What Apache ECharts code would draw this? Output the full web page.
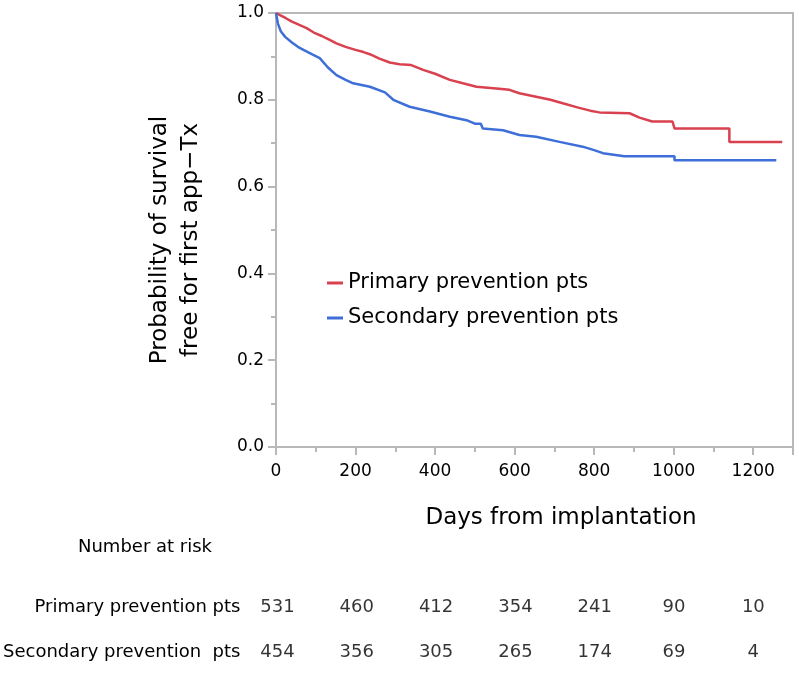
<!DOCTYPE html>
<html>
<head>
<meta charset="utf-8">
<script src="https://cdn.jsdelivr.net/npm/echarts@6/dist/echarts.min.js"></script>
<style>html,body{margin:0;padding:0;background:#fff}#c{width:799px;height:676px}</style>
</head>
<body>
<div id="c"></div>
<script>
// Kaplan-Meier curves: [day, survival]
var primaryName = 'Primary prevention pts';
var secondaryName = 'Secondary prevention pts';
var primaryDays = [0,10,25,40,60,77,95,115,135,152,175,200,220,236,260,286,311,340,370,400,437,470,504,554,587,612,654,690,721,760,790,813,889,914,946,997,1002,1140,1140,1273];
var primarySurv = [1.0,0.995,0.988,0.980,0.972,0.965,0.955,0.947,0.938,0.930,0.922,0.915,0.910,0.905,0.895,0.886,0.882,0.880,0.869,0.860,0.846,0.838,0.830,0.826,0.823,0.815,0.807,0.800,0.792,0.782,0.775,0.771,0.769,0.759,0.750,0.750,0.734,0.734,0.703,0.703];
var secondaryDays = [0,5,12,23,40,55,69,90,110,130,152,175,194,236,274,295,336,387,437,479,500,515,520,571,612,654,713,771,800,822,876,1002,1002,1258];
var secondarySurv = [1.0,0.975,0.958,0.945,0.932,0.922,0.915,0.905,0.896,0.875,0.857,0.846,0.838,0.830,0.817,0.800,0.784,0.773,0.761,0.753,0.745,0.745,0.734,0.730,0.719,0.715,0.703,0.692,0.684,0.677,0.670,0.670,0.661,0.661];

// Number at risk table
var riskTimes = [0,200,400,600,800,1000,1200];
var riskGroups = ['Secondary prevention  pts','Primary prevention pts'];
var riskPrimary = [531,460,412,354,241,90,10];
var riskSecondary = [454,356,305,265,174,69,4];

var xTitle = 'Days from implantation';
var yTitle = 'Probability of survival\nfree for first app\u2212Tx';
var riskTitle = 'Number at risk';

function pairs(xs, ys){ return xs.map(function(x,i){ return [x, ys[i]]; }); }
var riskData = [];
riskTimes.forEach(function(t,i){
  riskData.push([t, riskGroups[1], riskPrimary[i]]);
  riskData.push([t, riskGroups[0], riskSecondary[i]]);
});

var FONT = 'DejaVu Sans';
var axisGray = '#b8b8b8';
var chart = echarts.init(document.getElementById('c'));
chart.setOption({
  animation: false,
  backgroundColor: '#fff',
  textStyle: {fontFamily: FONT},
  grid: [
    {left: 276, right: 6, top: 13, bottom: 229, show: true, borderColor: axisGray, borderWidth: 2},
    {left: 276, right: 6, top: 584.5, height: 90}
  ],
  legend: {
    data: [primaryName, secondaryName],
    orient: 'vertical', left: 327, top: 271, padding: 0,
    icon: 'rect', itemWidth: 16, itemHeight: 3, itemGap: 11,
    textStyle: {fontFamily: FONT, fontSize: 21, color: '#000', lineHeight: 24}
  },
  xAxis: [{
    gridIndex: 0, type: 'value', min: 0, max: 1300, interval: 200,
    axisLine: {lineStyle: {color: axisGray, width: 2}},
    axisTick: {show: true, length: 8, inside: false, lineStyle: {color: axisGray, width: 2}},
    minorTick: {show: true, splitNumber: 2, length: 5, lineStyle: {color: axisGray, width: 2}},
    splitLine: {show: false},
    axisLabel: {margin: 16, fontSize: 17, color: '#000', fontFamily: FONT, showMaxLabel: false,
      formatter: function(v){ return v % 200 === 0 ? String(v) : ''; }}
  },{
    gridIndex: 1, type: 'value', min: 0, max: 1300, show: false
  }],
  yAxis: [{
    gridIndex: 0, type: 'value', min: 0, max: 1, interval: 0.2,
    axisLine: {show: true, lineStyle: {color: axisGray, width: 2}},
    axisTick: {show: true, length: 8, inside: false, lineStyle: {color: axisGray, width: 2}},
    minorTick: {show: true, splitNumber: 2, length: 5, lineStyle: {color: axisGray, width: 2}},
    splitLine: {show: false},
    axisLabel: {margin: 12, fontSize: 17, color: '#000', fontFamily: FONT,
      formatter: function(v){ return v.toFixed(1); }}
  },{
    gridIndex: 1, type: 'category', data: riskGroups,
    axisLine: {show: false}, axisTick: {show: false}, splitLine: {show: false},
    axisLabel: {margin: 37, fontSize: 18, color: '#000', fontFamily: FONT}
  }],
  series: [{
    name: primaryName, type: 'line', xAxisIndex: 0, yAxisIndex: 0,
    showSymbol: false, data: pairs(primaryDays, primarySurv),
    color: '#d9414f', lineStyle: {width: 2.5, color: '#d9414f'}
  },{
    name: secondaryName, type: 'line', xAxisIndex: 0, yAxisIndex: 0,
    showSymbol: false, data: pairs(secondaryDays, secondarySurv),
    color: '#3e6fd9', lineStyle: {width: 2.5, color: '#3e6fd9'}
  },{
    name: 'risk', type: 'scatter', xAxisIndex: 1, yAxisIndex: 1,
    symbolSize: 0, silent: true,
    data: riskData,
    label: {show: true, position: [0, 0], align: 'center', verticalAlign: 'middle',
      fontSize: 18, color: '#000', fontFamily: FONT,
      formatter: function(p){ return String(p.value[2]); }}
  }],
  graphic: [
    {type: 'text', x: 561, y: 518, style: {text: xTitle, font: '23px "DejaVu Sans"', fill: '#000', textAlign: 'center', textVerticalAlign: 'middle'}},
    {type: 'text', x: 175.5, y: 240, rotation: Math.PI/2, style: {text: yTitle, font: '23px "DejaVu Sans"', lineHeight: 31, fill: '#000', textAlign: 'center', textVerticalAlign: 'middle'}},
    {type: 'text', x: 145, y: 547, style: {text: riskTitle, font: '18px "DejaVu Sans"', fill: '#000', textAlign: 'center', textVerticalAlign: 'middle'}}
  ]
});
</script>
</body>
</html>
